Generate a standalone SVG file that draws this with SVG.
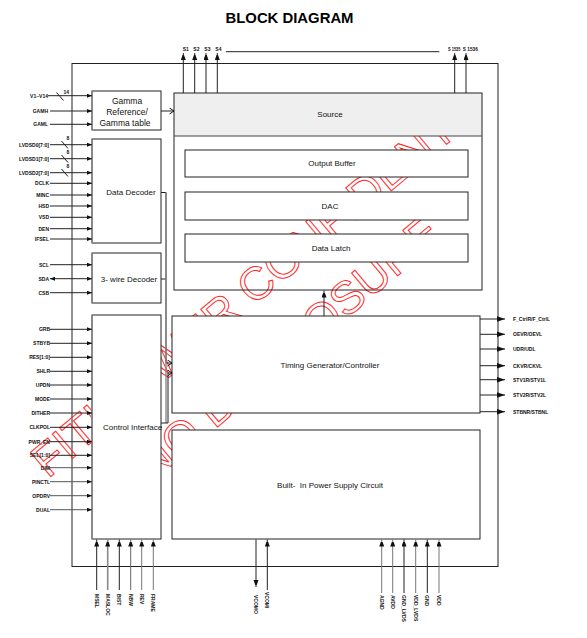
<svg xmlns="http://www.w3.org/2000/svg" width="587" height="638" viewBox="0 0 587 638">
<style>
.box{fill:#fff;stroke:#222;stroke-width:1}
.nf{fill:none;stroke:#222;stroke-width:1}
.lbl{font-family:"Liberation Sans",Arial,sans-serif;font-size:8px;fill:#111}
.pin{font-family:"Liberation Sans",Arial,sans-serif;font-size:5px;font-weight:bold;fill:#111}
.pe{text-anchor:end}
.w{stroke:#222;stroke-width:1;fill:none}
.wm{font-family:"Liberation Sans",Arial,sans-serif;font-size:46px;fill:none;stroke:#ff2a2a;stroke-width:1}
</style>
<defs>
<clipPath id="inner"><rect x="20" y="136" width="477" height="430"/></clipPath>
<marker id="ai" markerUnits="userSpaceOnUse" markerWidth="5" markerHeight="4" refX="5" refY="2" orient="auto-start-reverse"><path d="M0,0L5,2L0,4z" fill="#111"/></marker>
<marker id="ao" markerUnits="userSpaceOnUse" markerWidth="8" markerHeight="6" refX="8" refY="3" orient="auto"><path d="M0,0.3L8,3L0,5.7z" fill="#111"/></marker>
<marker id="at" markerUnits="userSpaceOnUse" markerWidth="5" markerHeight="7" refX="7" refY="2.5" orient="auto"><path d="M0,0L7,2.5L0,5z" fill="#111"/></marker>
<marker id="av" markerUnits="userSpaceOnUse" markerWidth="6" markerHeight="7" refX="5" refY="3.5" orient="auto"><path d="M0.5,0.5L5,3.5L0.5,6.5" fill="none" stroke="#111" stroke-width="1"/></marker>
</defs>
<rect width="587" height="638" fill="#fff"/>
<text x="289.5" y="23" text-anchor="middle" textLength="128" lengthAdjust="spacingAndGlyphs" style="font-family:'Liberation Sans',Arial,sans-serif;font-size:15px;font-weight:bold;fill:#000">BLOCK DIAGRAM</text>

<rect id="chip" class="nf" x="72" y="63.5" width="426" height="503"/>

<g id="watermark" clip-path="url(#inner)">
<text class="wm" transform="translate(48,479) rotate(-40)">FITIPOWER CONFIDENTIAL</text>
<text class="wm" transform="translate(152,482) rotate(-40)">NO DISCLOSURE</text>
</g>

<g id="source">
<rect x="174" y="93" width="308" height="43" fill="#efefef" stroke="none"/>
<rect class="nf" x="174" y="93" width="308" height="197" stroke="#444"/>
<line x1="174" y1="136" x2="482" y2="136" stroke="#444"/>
<text class="lbl" x="330" y="117" text-anchor="middle">Source</text>
</g>

<g id="outbuf"><rect class="box" x="185" y="150" width="283" height="27"/><text class="lbl" x="332" y="166" text-anchor="middle">Output Buffer</text></g>
<g id="dac"><rect class="box" x="185" y="192" width="283" height="28"/><text class="lbl" x="330" y="208.5" text-anchor="middle">DAC</text></g>
<g id="latch"><rect class="box" x="185" y="234" width="283" height="28"/><text class="lbl" x="331" y="250.5" text-anchor="middle">Data Latch</text></g>
<g id="timing"><rect class="box" x="172" y="316" width="308" height="97"/><text class="lbl" x="330" y="367.5" text-anchor="middle">Timing Generator/Controller</text></g>
<g id="power"><rect class="box" x="172" y="430" width="308" height="109"/><text class="lbl" x="330" y="487.5" text-anchor="middle" xml:space="preserve">Built-  In Power Supply Circuit</text></g>

<g id="gamma"><rect class="box" x="92" y="91" width="69" height="39"/>
<text class="lbl" x="127" y="104" text-anchor="middle" style="font-size:8.5px">Gamma</text>
<text class="lbl" x="127" y="114.5" text-anchor="middle" style="font-size:8.5px">Reference/</text>
<text class="lbl" x="125" y="126" text-anchor="middle" style="font-size:8.5px">Gamma table</text></g>
<g id="datadec"><rect class="box" x="92" y="139" width="69" height="104"/><text class="lbl" x="131" y="195" text-anchor="middle">Data Decoder</text></g>
<g id="wire3"><rect class="box" x="92" y="253" width="69" height="50"/><text class="lbl" x="129" y="282" text-anchor="middle">3- wire Decoder</text></g>
<g id="ctrl"><rect class="box" x="92" y="315" width="69" height="224"/><text class="lbl" x="103" y="430">Control Interface</text></g>
<path d="M92,91V130M92,139V243M92,253V303M92,315V539" stroke="#888" stroke-width="1.6" fill="none"/>

<g id="connectors">
<g class="w">
<path d="M161,111H174" marker-end="url(#av)"/>
<path d="M161,192.5H166V363H172" marker-end="url(#av)"/>
<path d="M161,279H166"/>
<path d="M166,192.5V423" stroke="#888" stroke-width="1.4"/>
<path d="M161,423H168V373H172" marker-end="url(#av)"/>
<path d="M324,316V290.5" marker-end="url(#at)"/>
</g>
<g class="w" marker-end="url(#ai)">
<path d="M48,95.7H92"/><path d="M50,111H92"/><path d="M50,124.3H92"/>
<path d="M50,144.7H92"/><path d="M50,158.7H92"/><path d="M50,172.7H92"/>
<path d="M50,183.3H92"/><path d="M50,195H92"/><path d="M50,206H92"/><path d="M50,217.3H92"/><path d="M50,228.7H92"/><path d="M50,239H92"/>
<path d="M50,264.7H92"/><path d="M50,278.7H92" marker-start="url(#ai)"/><path d="M50,292.7H92"/>
<path d="M50,329.3H92"/><path d="M50,343.3H92"/><path d="M50,357.3H92"/><path d="M50,371.3H92"/><path d="M50,385H92"/><path d="M50,399H92"/><path d="M50,413H92"/>
<path d="M50,427.3H92"/><path d="M50,441.7H92"/><path d="M50,455.3H92"/>
<path d="M50,467.7H92" stroke="#555"/><path d="M50,481.7H92" stroke="#555"/><path d="M50,495.7H92" stroke="#555"/><path d="M50,509.7H92" stroke="#555"/>
</g>
<g class="w">
<path d="M56.5,92.5L63.5,100.5"/><path d="M61.5,141L68,148.5"/><path d="M61.5,155L68,162.5"/><path d="M61.5,169L68,176.5"/>
</g>
<g class="w" marker-end="url(#at)">
<path d="M183.3,93V53"/><path d="M194.7,93V53"/><path d="M206,93V53"/><path d="M217.3,93V53"/><path d="M454.7,93V53"/><path d="M466,93V53"/>
</g>
<path class="w" d="M226,51.7H439.3"/>
<g class="w" marker-end="url(#ao)">
<path d="M480,319H505"/><path d="M480,334.3H505"/><path d="M480,349H505"/><path d="M480,365.7H505"/><path d="M480,379.7H505"/><path d="M480,395H505"/><path d="M480,411.7H505"/>
</g>
<g class="w" marker-end="url(#at)">
<path d="M96.7,590V539.5"/><path d="M107.7,590V539.5" stroke="#888" stroke-width="1.6"/><path d="M119.3,590V539.5"/><path d="M130.7,590V539.5" stroke="#666"/><path d="M141.7,590V539.5" stroke="#777"/><path d="M153.3,590V539.5" stroke="#777"/>
<path d="M256,539.5V587"/><path d="M267.3,590V539.5"/>
<path d="M381.7,593V539.5" stroke="#777"/><path d="M392.7,593V539.5" stroke="#777"/><path d="M404,593V539.5"/><path d="M415.7,593V539.5" stroke="#777"/><path d="M427.3,593V539.5"/><path d="M439,593V539.5" stroke="#777"/>
</g>
</g>

<g id="pinlabels" class="pin">
<text class="pe" x="48" y="97.5">V1~V14</text>
<text class="pe" x="48" y="112.8">GAMH</text>
<text class="pe" x="48" y="126.1">GAML</text>
<text x="63.5" y="94.3">14</text>
<text x="66.5" y="140">8</text><text x="66.5" y="154">8</text><text x="66.5" y="168">8</text>
<text class="pe" x="49" y="146.5">LVDSD0[7:0]</text>
<text class="pe" x="49" y="160.5">LVDSD1[7:0]</text>
<text class="pe" x="49" y="174.5">LVDSD2[7:0]</text>
<text class="pe" x="49" y="185.1">DCLK</text>
<text class="pe" x="49" y="196.8">MINC</text>
<text class="pe" x="49" y="207.8">HSD</text>
<text class="pe" x="49" y="219.1">VSD</text>
<text class="pe" x="49" y="230.5">DEN</text>
<text class="pe" x="49" y="240.8">IFSEL</text>
<text class="pe" x="49" y="266.5">SCL</text>
<text class="pe" x="49" y="280.5">SDA</text>
<text class="pe" x="49" y="294.5">CSB</text>
<text class="pe" x="50" y="331.1">GRB</text>
<text class="pe" x="50" y="345.1">STBYB</text>
<text class="pe" x="50" y="359.1">RES[1:0]</text>
<text class="pe" x="50" y="373.1">SHLR</text>
<text class="pe" x="50" y="386.8">UPDN</text>
<text class="pe" x="50" y="400.8">MODE</text>
<text class="pe" x="50" y="414.8">DITHER</text>
<text class="pe" x="50" y="429.1">CLKPOL</text>
<text class="pe" x="50" y="443.5">PWR_EN</text>
<text class="pe" x="50" y="457.1">SEL[1:0]</text>
<text class="pe" x="50" y="469.5">DIM</text>
<text class="pe" x="50" y="483.5">PINCTL</text>
<text class="pe" x="50" y="497.5">OPDRV</text>
<text class="pe" x="50" y="511.5">DUAL</text>
<text x="182.7" y="50.5">S1</text><text x="193.3" y="50.5">S2</text><text x="204.3" y="50.5">S3</text><text x="215.3" y="50.5">S4</text>
<text x="448" y="50.5" textLength="12.5" lengthAdjust="spacingAndGlyphs">S 1535</text><text x="462.8" y="50.5" textLength="15" lengthAdjust="spacingAndGlyphs">S 1536</text>
<text x="513" y="320.8">F_CtrlR/F_CtrlL</text>
<text x="513" y="336.1">OEVR/OEVL</text>
<text x="513" y="350.8">UDR/UDL</text>
<text x="513" y="367.5">CKVR/CKVL</text>
<text x="513" y="381.5">STV1R/STV1L</text>
<text x="513" y="396.8">STV2R/STV2L</text>
<text x="513" y="413.5">STBNR/STBNL</text>
<text transform="translate(96.7,594) rotate(90)" y="1.8">MSEL</text>
<text transform="translate(107.7,594) rotate(90)" y="1.8">MASLOC</text>
<text transform="translate(119.3,594) rotate(90)" y="1.8">BIST</text>
<text transform="translate(130.7,594) rotate(90)" y="1.8">NBW</text>
<text transform="translate(141.7,594) rotate(90)" y="1.8">REV</text>
<text transform="translate(153.3,594) rotate(90)" y="1.8">FRAME</text>
<text transform="translate(256,595) rotate(90)" y="1.8">VCOMO</text>
<text transform="translate(267.3,592) rotate(90)" y="1.8">VCOMI</text>
<text transform="translate(381.7,595) rotate(90)" y="1.8">AGND</text>
<text transform="translate(392.7,595) rotate(90)" y="1.8">AVDD</text>
<text transform="translate(404,595) rotate(90)" y="1.8">GND_LVDS</text>
<text transform="translate(415.7,595) rotate(90)" y="1.8">VDD_LVDS</text>
<text transform="translate(427.3,595) rotate(90)" y="1.8">GND</text>
<text transform="translate(439,595) rotate(90)" y="1.8">VDD</text>
</g>
</svg>
